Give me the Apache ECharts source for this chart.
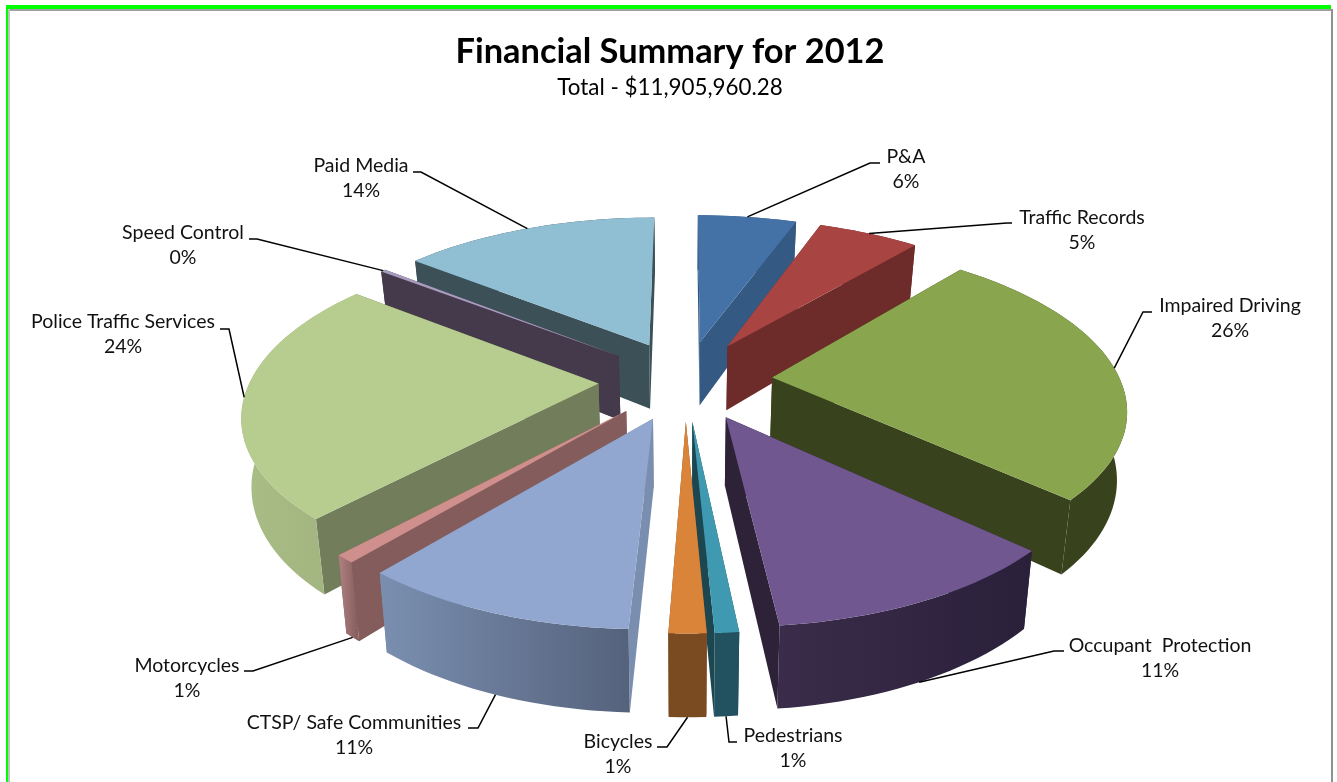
<!DOCTYPE html>
<html><head><meta charset="utf-8">
<style>html,body{margin:0;padding:0;background:#fff}#c{width:1337px;height:782px}</style>
<script src="https://cdn.jsdelivr.net/npm/echarts@6/dist/echarts.min.js"></script>
</head><body><div id="c"></div>
<script>
const categories=["P&A","Traffic Records","Impaired Driving","Occupant  Protection","Pedestrians","Bicycles","CTSP/ Safe Communities","Motorcycles","Police Traffic Services","Speed Control","Paid Media"];
const shareValues=[5.5,5.64,25.8,11.42,0.89,1.39,10.42,0.78,23.64,0.28,14.25];
const percentLabels=["6%","5%","26%","11%","1%","1%","11%","1%","24%","0%","14%"];
const topColors=["#4472a6","#a84442","#89a64f","#71578f","#3f99b0","#da8439","#91a7cf","#cf8f8d","#b7cc8f","#a99bbd","#90bfd3"];
const wallColors=["#345a84","#6d2b29","#38421d","#2d2238","#1c4650","#7a4a20","#7a8fb0","#835c5b","#727d5b","#443a4c","#3c5058"];
const rimLeft=["#345a84","#6d2b29","#38421d","#3a2c4a","#22525f","#7a4a20","#7a8fb0","#b08080","#a9bd86","#443a4c","#3c5058"];
const rimRight=["#345a84","#6d2b29","#38421d","#2a203a","#22525f","#7a4a20","#55627c","#835c5b","#a0b27e","#443a4c","#3c5058"];
// label block: centre x, first-line y; elbow point and short run end of the leader
const labelBlocks=[[906,157,870,163,880,163],[1082,218,1007,223,1012,223],[1230,306,1143,312,1152,312],[1160,646,1054,651,1064,651],[793,736,729,742,737,742],[618,742,667,747,657,747],[354,723,478,728,468,728],[187,666,253,671,244,671],[123,322,229,329,220,329],[183,233,257,239,249,239],[361,166,421,172,413,172]];
const leaderOnBase=[0,0,0,1,1,1,1,1,0,0,0];

const cx=685.5,cy=380,B=348,A=160,G=0.169,H=66,BLAST=0.25,BASE_SHRINK=0.977;
const total=shareValues.reduce((a,b)=>a+b,0);
function proj(u,v,z){const p=1/(1-G*v);const k=z?BASE_SHRINK:1;return [cx+B*u*p*k,cy+A*v*p+H*p*z];}
let cum=0;const spans=shareValues.map(s=>{const a=cum/total*2*Math.PI;cum+=s;return [a,cum/total*2*Math.PI];});
const rank=spans.map((s,i)=>[i,-Math.cos((s[0]+s[1])/2)]).sort((a,b)=>a[1]-b[1]).map(r=>r[0]);

function sliceShapes(i,value){
  const a0=spans[i][0],a1=a0+value/total*2*Math.PI,m=(a0+a1)/2;
  const ou=BLAST*Math.sin(m),ov=-BLAST*Math.cos(m);
  const pt=(a,r,z)=>proj(ou+r*Math.sin(a),ov-r*Math.cos(a),z);
  const arc=[];const n=Math.max(2,Math.ceil((a1-a0)/0.03));
  for(let k=0;k<=n;k++)arc.push(a0+(a1-a0)*k/n);
  const topPoly=[pt(0,0,0)].concat(arc.map(a=>pt(a,1,0)));
  const rim=arc.map(a=>pt(a,1,0)),base=arc.map(a=>pt(a,1,1)).reverse();
  const wall=a=>[pt(0,0,0),pt(a,1,0),pt(a,1,1),pt(0,0,1)];
  const z=rank.indexOf(i)*10;
  const fill=rimLeft[i]===rimRight[i]?rimLeft[i]:{type:'linear',x:0,y:0,x2:1,y2:0,colorStops:[{offset:0,color:rimLeft[i]},{offset:1,color:rimRight[i]}]};
  const poly=(pts,c,k)=>({type:'polygon',shape:{points:pts},style:{fill:c},z2:z+k});
  return {type:'group',children:[poly(wall(a0),wallColors[i],0),poly(wall(a1),wallColors[i],1),poly(rim.concat(base),fill,2),poly(topPoly,topColors[i],3)]};
}
function labelShapes(i,value){
  const a0=spans[i][0],m=a0+value/total*Math.PI;
  const ou=BLAST*Math.sin(m),ov=-BLAST*Math.cos(m);
  const start=proj(ou+Math.sin(m),ov-Math.cos(m),leaderOnBase[i]);
  const b=labelBlocks[i];
  const txt=(s,y)=>({type:'text',style:{text:s,x:b[0],y:y,align:'center',verticalAlign:'middle',font:'19.5px Lato',fill:'#111'},z2:500});
  return {type:'group',children:[
    {type:'polyline',shape:{points:[start,[b[2],b[3]],[b[4],b[5]]]},style:{stroke:'#000',lineWidth:1.5,fill:'none'},z2:400},
    txt(categories[i],b[1]),txt(percentLabels[i],b[1]+25)]};
}
const chart=echarts.init(document.getElementById('c'),null,{renderer:'canvas'});
const rows=categories.map((n,i)=>[i,shareValues[i]]);
chart.setOption({
  animation:false,backgroundColor:'#fff',
  title:{text:'Financial Summary for 2012',subtext:'Total - $11,905,960.28',left:665,textAlign:'center',top:30,itemGap:8,
    textStyle:{fontFamily:'Lato',fontWeight:'bold',fontSize:34.4,color:'#000'},
    subtextStyle:{fontFamily:'Lato',fontSize:22.4,color:'#000'}},
  graphic:[
    {type:'rect',shape:{x:6,y:5,width:1325,height:4},style:{fill:'#00ff00'},silent:true},
    {type:'rect',shape:{x:6,y:5,width:2,height:777},style:{fill:'#00ff00'},silent:true},
    {type:'rect',shape:{x:8,y:9,width:1324,height:2},style:{fill:'#a0a0a0'},silent:true},
    {type:'rect',shape:{x:8,y:9,width:2,height:773},style:{fill:'#c0c0c0'},silent:true},
    {type:'rect',shape:{x:1331,y:9,width:2,height:773},style:{fill:'#909090'},silent:true}
  ],
  series:[
    {type:'custom',coordinateSystem:'none',data:rows,silent:true,renderItem:(p,api)=>sliceShapes(api.value(0),api.value(1))},
    {type:'custom',coordinateSystem:'none',data:rows,silent:true,z:5,renderItem:(p,api)=>labelShapes(api.value(0),api.value(1))}
  ]
});
</script></body></html>
